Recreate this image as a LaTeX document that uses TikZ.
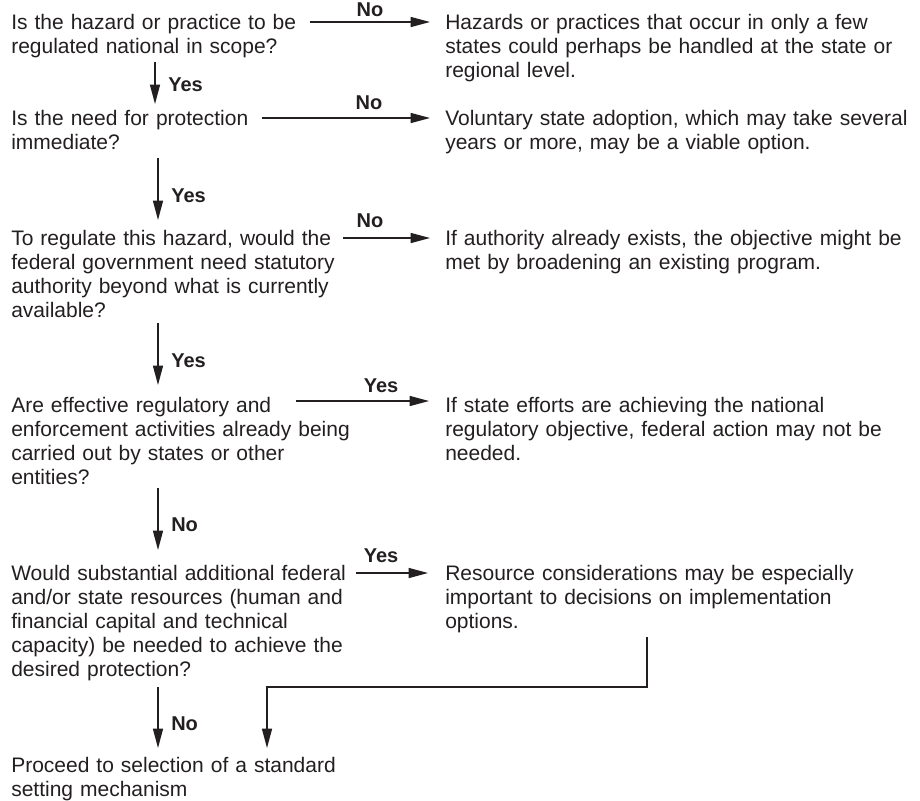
\documentclass[tikz,border=0pt]{standalone}
\usepackage{fontspec}
\setmainfont{Liberation Sans}
\usetikzlibrary{arrows.meta,calc}
\definecolor{ink}{RGB}{35,31,32}
\begin{document}
\begin{tikzpicture}[x=0.75pt,y=-0.75pt,
  txt/.style={anchor=base west, inner sep=0pt, text width=13cm, align=left,
    font=\fontsize{15.75pt}{18pt}\selectfont, text=ink},
  lbl/.style={anchor=base, inner sep=0pt, font=\fontsize{15pt}{18pt}\selectfont\bfseries, text=ink},
  lblv/.style={lbl, anchor=base west},
  arr/.style={draw=ink, line width=1pt, -{Triangle[length=14.5pt,width=7.5pt]}}]
\useasboundingbox (0,0) rectangle (920,800);

% left column (questions)
\node[txt] (q1) at (11,29) {Is the hazard or practice to be\\regulated national in scope?};
\node[txt] (q2) at (11,125) {Is the need for protection\\immediate?};
\node[txt] (q3) at (11,245) {To regulate this hazard, would the\\federal government need statutory\\authority beyond what is currently\\available?};
\node[txt] (q4) at (11,412) {Are effective regulatory and\\enforcement activities already being\\carried out by states or other\\entities?};
\node[txt] (q5) at (11,580) {Would substantial additional federal\\and/or state resources (human and\\financial capital and technical\\capacity) be needed to achieve the\\desired protection?};
\node[txt] (q6) at (11,772) {Proceed to selection of a standard\\setting mechanism};

% right column (comments)
\node[txt] (r1) at (445,29) {Hazards or practices that occur in only a few\\states could perhaps be handled at the state or\\regional level.};
\node[txt] (r2) at (445,125) {Voluntary state adoption, which may take several\\years or more, may be a viable option.};
\node[txt] (r3) at (445,245) {If authority already exists, the objective might be\\met by broadening an existing program.};
\node[txt] (r4) at (445,412) {If state efforts are achieving the national\\regulatory objective, federal action may not be\\needed.};
\node[txt] (r5) at (445,580) {Resource considerations may be especially\\important to decisions on implementation\\options.};

% horizontal arrows
\draw[arr] ($(q1.base west)+(299,-7)$) -- ($(r1.base west)+(-15,-7)$);
\draw[arr] ($(q2.base west)+(251,-7)$) -- ($(r2.base west)+(-15,-7)$);
\draw[arr] ($(q3.base west)+(332,-7)$) -- ($(r3.base west)+(-15,-7)$);
\draw[arr] ($(q4.base west)+(285,-11)$) -- ($(r4.base west)+(-16,-11)$);
\draw[arr] ($(q5.base west)+(345,-7)$) -- ($(r5.base west)+(-17,-7)$);

\node[lbl] (h1) at (370,16) {No};
\node[lbl] (h2) at (369,109) {No};
\node[lbl] (h3) at (370,227) {No};
\node[lbl] (h4) at (381,392) {Yes};
\node[lbl] (h5) at (381,562) {Yes};

% vertical arrows
\draw[arr] ($(q1.base west)+(144,33)$) -- ($(q2.base west)+(144,-21)$);
\draw[arr] ($(q2.base west)+(147,33)$) -- ($(q3.base west)+(147,-25)$);
\draw[arr] ($(q3.base west)+(147,78)$) -- ($(q4.base west)+(147,-27)$);
\draw[arr] ($(q4.base west)+(147,76)$) -- ($(q5.base west)+(147,-30)$);
\draw[arr] ($(q5.base west)+(147,107)$) -- ($(q6.base west)+(147,-24)$);

\node[lblv] (v1) at (168,91) {Yes};
\node[lblv] (v2) at (171,202) {Yes};
\node[lblv] (v3) at (171,367) {Yes};
\node[lblv] (v4) at (171,531) {No};
\node[lblv] (v5) at (171,730) {No};

% feedback from resource considerations
\draw[arr] ($(r5.base west)+(202,57)$) |- ($(q6.base west)+(256,-85)$) -- ($(q6.base west)+(256,-24)$);
\end{tikzpicture}
\end{document}
